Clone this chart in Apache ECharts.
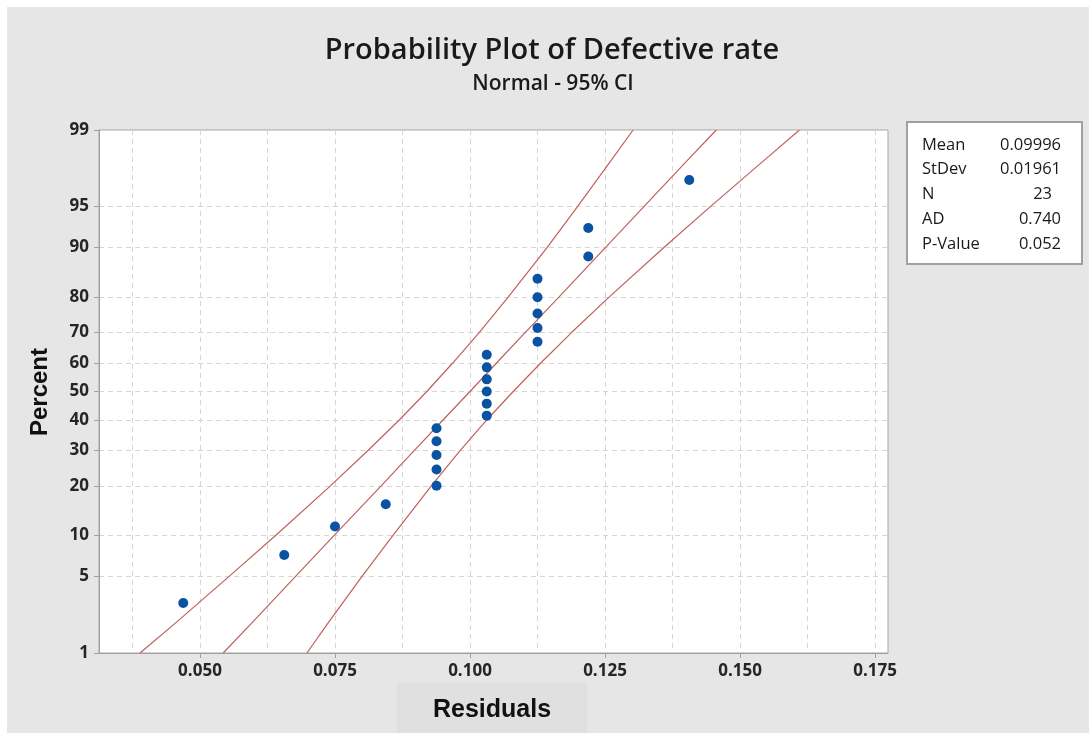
<!DOCTYPE html>
<html>
<head>
<meta charset="utf-8">
<script src="https://cdn.jsdelivr.net/npm/echarts@6/dist/echarts.min.js"></script>
<style>
html,body{margin:0;padding:0;background:#fff;}
#chart{width:1089px;height:733px;}
</style>
</head>
<body>
<div id="chart"></div>
<script>
// ---- data ----
const residuals = [0.0469,0.0656,0.0750,0.0844,0.0938,0.0938,0.0938,0.0938,0.0938,0.1031,0.1031,0.1031,0.1031,0.1031,0.1031,0.1125,0.1125,0.1125,0.1125,0.1125,0.1219,0.1219,0.1406];
const percents = [3.0,7.3,11.5,15.8,20.1,24.4,28.6,32.9,37.2,41.5,45.7,50.0,54.3,58.5,62.8,67.1,71.4,75.6,79.9,84.2,88.5,92.7,97.0];
const ciPercents = [1,2,5,10,20,30,40,50,60,70,80,90,95,98,99];
const fitLine = [0.0543,0.0597,0.0677,0.0748,0.0835,0.0897,0.0950,0.1000,0.1049,0.1102,0.1165,0.1251,0.1322,0.1402,0.1456];
const ciLower = [0.0389,0.0456,0.0554,0.0640,0.0741,0.0811,0.0869,0.0920,0.0968,0.1017,0.1071,0.1143,0.1199,0.1261,0.1302];
const ciUpper = [0.0698,0.0738,0.0800,0.0857,0.0928,0.0982,0.1031,0.1080,0.1131,0.1188,0.1258,0.1359,0.1445,0.1544,0.1610];
const yTickLabels = [1,5,10,20,30,40,50,60,70,80,90,95,99];
const xTickLabels = [0.050,0.075,0.100,0.125,0.150,0.175];
const xGridValues = [0.0375,0.050,0.0625,0.075,0.0875,0.100,0.1125,0.125,0.1375,0.150,0.1625,0.175];
const statNames = ['Mean','StDev','N','AD','P-Value'];
const statValues = ['0.09996','0.01961','23','0.740','0.052'];

// ---- normal probability scale (probit) ----
function probit(p){
  const a=[-3.969683028665376e+01,2.209460984245205e+02,-2.759285104469687e+02,1.383577518672690e+02,-3.066479806614716e+01,2.506628277459239e+00];
  const b=[-5.447609879822406e+01,1.615858368580409e+02,-1.556989798598866e+02,6.680131188771972e+01,-1.328068155288572e+01];
  const c=[-7.784894002430293e-03,-3.223964580411365e-01,-2.400758277161838e+00,-2.549732539343734e+00,4.374664141464968e+00,2.938163982698783e+00];
  const d=[7.784695709041462e-03,3.224671290700398e-01,2.445134137142996e+00,3.754408661907416e+00];
  const pl=0.02425, ph=1-pl; let q,r;
  if(p<pl){q=Math.sqrt(-2*Math.log(p));return (((((c[0]*q+c[1])*q+c[2])*q+c[3])*q+c[4])*q+c[5])/((((d[0]*q+d[1])*q+d[2])*q+d[3])*q+1);}
  if(p<=ph){q=p-0.5;r=q*q;return (((((a[0]*r+a[1])*r+a[2])*r+a[3])*r+a[4])*r+a[5])*q/(((((b[0]*r+b[1])*r+b[2])*r+b[3])*r+b[4])*r+1);}
  q=Math.sqrt(-2*Math.log(1-p));return -(((((c[0]*q+c[1])*q+c[2])*q+c[3])*q+c[4])*q+c[5])/((((d[0]*q+d[1])*q+d[2])*q+d[3])*q+1);
}
const z = p => probit(p/100);
const yTickZ = yTickLabels.map(z);

const pts = residuals.map((x,i)=>[x, z(percents[i])]);
const curve = arr => arr.map((x,i)=>[x, z(ciPercents[i])]);

const FONT = '"Open Sans", "Noto Sans", sans-serif';
const lineColor = '#c0605c';

const chart = echarts.init(document.getElementById('chart'));
chart.setOption({
  backgroundColor:'#e6e6e6',
  animation:false,
  grid:{left:99,right:201,top:130,bottom:80,show:true,backgroundColor:'#fff',borderColor:'#a5a5a5',borderWidth:1},
  xAxis:[{
    type:'value', min:0.0313, max:0.1774,
    axisLine:{show:true,onZero:false,lineStyle:{color:'#a0a0a0'}},
    axisTick:{show:true,length:5,customValues:xTickLabels,lineStyle:{color:'#a0a0a0'}},
    axisLabel:{customValues:xTickLabels,formatter:v=>v.toFixed(3),color:'#262626',fontFamily:FONT,fontSize:17,fontWeight:'bold',margin:10},
    splitLine:{show:false}
  },{
    type:'value', min:0.0313, max:0.1774, position:'bottom',
    axisLine:{show:false,onZero:false}, axisLabel:{show:false},
    axisTick:{show:false,customValues:xGridValues},
    splitLine:{show:true,lineStyle:{color:'#d6d6d6',width:1,type:[5,4]}}
  }],
  yAxis:{
    type:'value', min:z(1), max:z(99),
    axisLine:{show:true,onZero:false,lineStyle:{color:'#a0a0a0'}},
    axisTick:{show:true,length:5,customValues:yTickZ,lineStyle:{color:'#a0a0a0'}},
    axisLabel:{customValues:yTickZ,color:'#262626',fontFamily:FONT,fontSize:17,fontWeight:'bold',margin:10,
      formatter:v=>{let bi=0,bd=1e9;yTickZ.forEach((t,i)=>{const dd=Math.abs(t-v);if(dd<bd){bd=dd;bi=i;}});return String(yTickLabels[bi]);}},
    splitLine:{show:true,lineStyle:{color:'#d6d6d6',width:1,type:[5,4]}}
  },
  series:[
    {type:'line',data:curve(ciLower),showSymbol:false,smooth:false,lineStyle:{color:lineColor,width:1.2},silent:true,z:3},
    {type:'line',data:curve(fitLine),showSymbol:false,smooth:false,lineStyle:{color:lineColor,width:1.2},silent:true,z:3},
    {type:'line',data:curve(ciUpper),showSymbol:false,smooth:false,lineStyle:{color:lineColor,width:1.2},silent:true,z:3},
    {type:'scatter',data:pts,symbol:'circle',symbolSize:10,itemStyle:{color:'#0a52a2',opacity:1},z:5}
  ],
  graphic:[
    {type:'rect',shape:{x:0,y:0,width:1089,height:7},style:{fill:'#fff'},silent:true},
    {type:'rect',shape:{x:0,y:0,width:7,height:733},style:{fill:'#fff'},silent:true},
    {type:'rect',shape:{x:397,y:683,width:190,height:50},style:{fill:'#e0e0e0'},silent:true,z:-1},
    {type:'text',x:552,y:51,style:{text:'Probability Plot of Defective rate',fill:'#1a1a1a',font:'600 29px '+FONT,align:'center',verticalAlign:'middle'}},
    {type:'text',x:553,y:84,style:{text:'Normal - 95% CI',fill:'#1a1a1a',font:'600 21px '+FONT,align:'center',verticalAlign:'middle'}},
    {type:'text',x:492,y:710,style:{text:'Residuals',fill:'#111',font:'bold 25px "Liberation Sans", Arial, sans-serif',align:'center',verticalAlign:'middle'}},
    {type:'text',x:40,y:392,rotation:Math.PI/2,style:{text:'Percent',fill:'#111',font:'bold 24px "Liberation Sans", Arial, sans-serif',align:'center',verticalAlign:'middle'}},
    {type:'rect',shape:{x:907,y:122,width:175,height:142},style:{fill:'#fff',stroke:'#a0a0a0',lineWidth:2}},
    ...statNames.map((n,i)=>({type:'text',x:922,y:145+i*24.7,style:{text:n,fill:'#1a1a1a',font:'16.5px '+FONT,align:'left',verticalAlign:'middle'}})),
    ...statValues.map((v,i)=>({type:'text',x:(v==='23'?1052:1061),y:145+i*24.7,style:{text:v,fill:'#1a1a1a',font:'16.5px '+FONT,align:'right',verticalAlign:'middle'}}))
  ]
});
</script>
</body>
</html>
